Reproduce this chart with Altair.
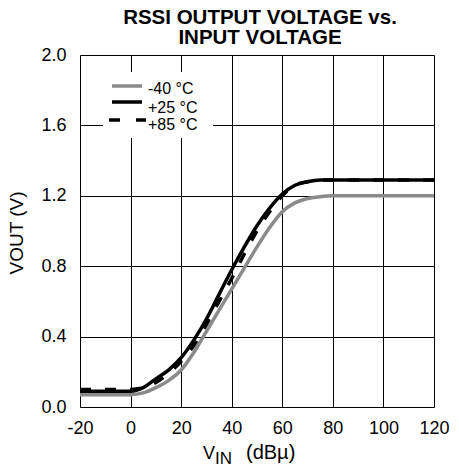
import altair as alt
import pandas as pd

# ---- data ----
vin = [-20, 0, 5, 10, 15, 20, 25, 30, 35, 40, 45, 50, 55, 60, 65, 70, 75, 80, 100, 120]
v_m40 = [0.07, 0.07, 0.08, 0.11, 0.15, 0.21, 0.31, 0.43, 0.55, 0.67, 0.79, 0.91, 1.02, 1.11, 1.16, 1.185, 1.195, 1.20, 1.20, 1.20]
v_p25 = [0.09, 0.09, 0.11, 0.16, 0.21, 0.28, 0.38, 0.50, 0.64, 0.78, 0.91, 1.03, 1.13, 1.21, 1.26, 1.28, 1.29, 1.29, 1.29, 1.29]
v_p85 = [0.10, 0.10, 0.11, 0.14, 0.19, 0.26, 0.35, 0.47, 0.60, 0.73, 0.87, 1.00, 1.11, 1.20, 1.26, 1.28, 1.29, 1.29, 1.29, 1.29]
series_names = ["-40 °C", "+25 °C", "+85 °C"]
x_ticks = [-20, 0, 20, 40, 60, 80, 100, 120]
y_ticks = [0.0, 0.4, 0.8, 1.2, 1.6, 2.0]
title_lines = ["RSSI OUTPUT VOLTAGE vs.", "INPUT VOLTAGE"]

rows = []
for name, vals in zip(series_names, [v_m40, v_p25, v_p85]):
    for x, v in zip(vin, vals):
        rows.append({"vin": x, "vout": v, "series": name})
df = pd.DataFrame(rows)

W, H = 354, 352
FONT = "Liberation Sans"

xs = alt.Scale(domain=[-20, 120], nice=False)
ys = alt.Scale(domain=[0, 2.0], nice=False)

base = alt.Chart(df)

def line(name, color, dash=None):
    kw = dict(color=color, strokeWidth=3.5, interpolate="monotone")
    if dash:
        kw["strokeDash"] = dash
    return base.transform_filter(alt.datum.series == name).mark_line(**kw).encode(
        x=alt.X("vin:Q", scale=xs,
                axis=alt.Axis(values=x_ticks, title=None, grid=True, gridColor="black",
                              gridOpacity=1, gridWidth=1, ticks=False, domain=False,
                              labelFontSize=18, labelFont=FONT, labelColor="black",
                              labelPadding=12, labelFlush=False, labelExpr="datum.value")),
        y=alt.Y("vout:Q", scale=ys,
                axis=alt.Axis(values=y_ticks, title=None, grid=True, gridColor="black",
                              gridOpacity=1, gridWidth=1, ticks=False, domain=False,
                              labelFontSize=18, labelFont=FONT, labelColor="black",
                              labelPadding=14, format=".1f", labelFlush=False)),
    )

l1 = line(series_names[0], "#8a8a8a")
l2 = line(series_names[1], "black")
l3 = line(series_names[2], "black", [11, 14])

# legend box
leg_df = pd.DataFrame({"series": series_names})
one = alt.Chart(leg_df).transform_filter(alt.datum.series == series_names[0])

box = one.mark_rect(color="white").encode(
    x=alt.value(23), x2=alt.value(133), y=alt.value(17), y2=alt.value(83))

def leg_rule(name, color, y, x1, x2, dash=None):
    kw = dict(color=color, strokeWidth=3.5)
    if dash:
        kw["strokeDash"] = dash
    return alt.Chart(leg_df).transform_filter(alt.datum.series == name).mark_rule(**kw).encode(
        x=alt.value(x1), x2=alt.value(x2), y=alt.value(y))

def leg_text(name, y):
    return alt.Chart(leg_df).transform_filter(alt.datum.series == name).mark_text(
        align="left", baseline="middle", fontSize=16, font=FONT, color="black").encode(
        text="series:N", x=alt.value(68), y=alt.value(y))

legend = [
    leg_rule(series_names[0], "#8a8a8a", 31, 32, 62),
    leg_rule(series_names[1], "black", 47, 32, 62),
    leg_rule(series_names[2], "black", 65, 29, 66, [11, 16]),
    leg_text(series_names[0], 34),
    leg_text(series_names[1], 53),
    leg_text(series_names[2], 70),
]

def txt(s, x, y, size, angle=0, baseline="alphabetic", align="left", weight="normal"):
    kw = dict(align=align, baseline=baseline, fontSize=size, font=FONT, color="black",
              text=s, fontWeight=weight)
    if angle:
        kw["angle"] = angle
    return one.mark_text(**kw).encode(x=alt.value(x), y=alt.value(y))

titles = [
    txt(title_lines[0], 180, -31, 20.5, align="center", weight="bold"),
    txt(title_lines[1], 180, -11, 20.5, align="center", weight="bold"),
    txt("V", 123, 404, 18),
    txt("IN", 135, 409, 17),
    txt("(dBµ)", 166, 404, 20),
    txt("VOUT (V)", -57, 178, 19, angle=270, align="center"),
]

chart = alt.layer(l1, l2, l3, box, *legend, *titles).properties(
    width=W, height=H,
    autosize=alt.AutoSizeParams(type="none"),
    padding={"left": 72, "top": 47, "right": 17, "bottom": 58},
).configure_view(stroke="black", strokeWidth=4).configure(background="white")

chart.save("out.html", embed_options={"renderer": "svg", "actions": False})
